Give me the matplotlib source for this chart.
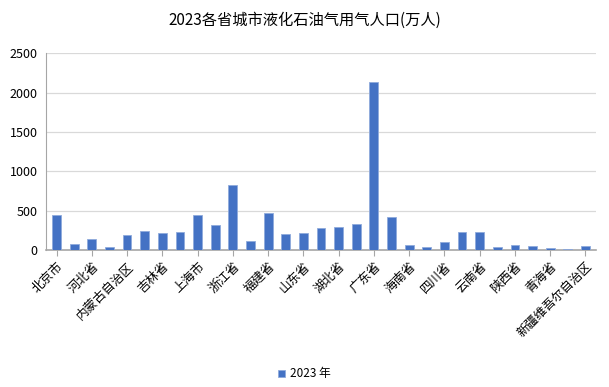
import matplotlib
matplotlib.use("Agg")
import matplotlib.pyplot as plt
import numpy as np

plt.rcParams['font.family'] = ['Noto Sans CJK SC', 'DejaVu Sans']

# provinces in the usual statistical order
provinces = ['北京市', '天津市', '河北省', '山西省', '内蒙古自治区', '辽宁省', '吉林省', '黑龙江省',
             '上海市', '江苏省', '浙江省', '安徽省', '福建省', '江西省', '山东省', '河南省',
             '湖北省', '湖南省', '广东省', '广西壮族自治区', '海南省', '重庆市', '四川省', '贵州省',
             '云南省', '西藏自治区', '陕西省', '甘肃省', '青海省', '宁夏回族自治区', '新疆维吾尔自治区']
# 2023 population using LPG (10k people)
values = [445, 72, 140, 38, 191, 237, 216, 225,
          445, 314, 822, 119, 470, 199, 220, 280,
          292, 330, 2131, 419, 59, 34, 102, 225,
          225, 38, 64, 47, 25, 17, 47]
series_name = '2023 年'
title = '2023各省城市液化石油气用气人口(万人)'

fig = plt.figure(figsize=(6.09, 3.87), dpi=100)
ax = fig.add_axes([46 / 609, 1 - 250 / 387, 550 / 609, 196.7 / 387])

x = np.arange(len(provinces))
ax.bar(x, values, width=0.5, color='#4472C4', edgecolor='#8FAADC', linewidth=0.6,
       label=series_name, zorder=3)

ax.set_xlim(-0.6, len(provinces) - 0.4)
ax.set_ylim(0, 2500)
ax.set_yticks(np.arange(0, 2501, 500))
ax.grid(axis='y', color='#D9D9D9', linewidth=0.9, zorder=0)

ax.set_xticks(x[::2])
ax.set_xticklabels(provinces[::2], rotation=45, ha='right', va='top',
                   rotation_mode='anchor', fontsize=9)
ax.tick_params(axis='x', length=4, color='#A6A6A6', pad=3)
ax.tick_params(axis='y', length=0, labelsize=9, pad=6)

for s in ['top', 'right']:
    ax.spines[s].set_visible(False)
ax.spines['left'].set_color('#A6A6A6')
ax.spines['bottom'].set_color('#A6A6A6')
ax.spines['bottom'].set_linewidth(1.2)

fig.text(0.5, 1 - 20 / 387, title, ha='center', va='center', fontsize=11)
fig.legend(loc='center', bbox_to_anchor=(0.5, 1 - 374 / 387), frameon=False,
           fontsize=8.5, handlelength=0.6, handleheight=0.6, handletextpad=0.4)

fig.savefig('out.png', dpi=100)
